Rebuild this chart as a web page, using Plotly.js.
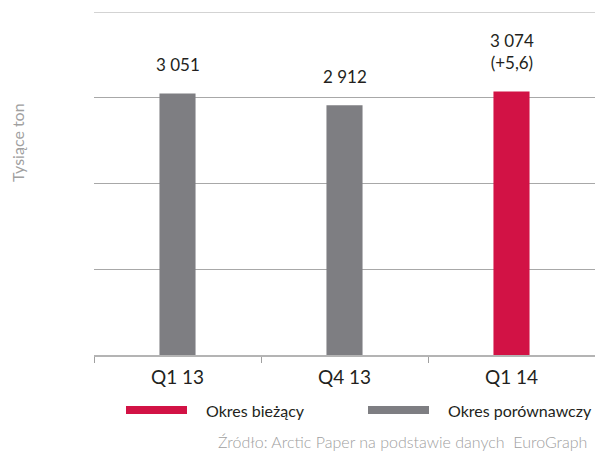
<!DOCTYPE html>
<html>
<head>
<meta charset="utf-8">
<script src="https://cdn.plot.ly/plotly-3.0.1.min.js"></script>
<style>html,body{margin:0;padding:0;background:#fff;}#chart{width:595px;height:455px;}</style>
</head>
<body>
<div id="chart"></div>
<script>
var categories = ["Q1 13", "Q4 13", "Q1 14"];
var values = [3051, 2912, 3074];
var valueLabels = ["3 051", "2 912", "3 074<br>(+5,6)"];
var isCurrent = [false, false, true];
var seriesNames = ["Okres bieżący", "Okres porównawczy"];
var yTitle = "Tysiące ton";
var sourceText = "Źródło: Arctic Paper na podstawie danych  EuroGraph";

var RED = "#d21245", GRAY = "#7e7e82";
var FONT = "Lato, 'Open Sans', sans-serif";
var DARK = "#231f20", LIGHT = "#a0a0a0";

var cmpX = [], cmpY = [], curX = [], curY = [];
categories.forEach(function(c, i){
  if (isCurrent[i]) { curX.push(c); curY.push(values[i]); }
  else { cmpX.push(c); cmpY.push(values[i]); }
});

var traces = [
  {type:"bar", x:cmpX, y:cmpY, name:seriesNames[1], marker:{color:GRAY}, width:0.216, hoverinfo:"x+y"},
  {type:"bar", x:curX, y:curY, name:seriesNames[0], marker:{color:RED}, width:0.216, hoverinfo:"x+y"}
];

// pixel helpers for paper coords (plot area: x 94..595, y 12..355)
function px(x){ return (x-94)/501; }
function py(y){ return (355-y)/343; }

var annotations = categories.map(function(c, i){
  return {x:c, y:values[i], xref:"x", yref:"y", text:valueLabels[i], showarrow:false,
          yanchor:"bottom", yshift:16, font:{family:FONT, size:17, color:DARK}};
});
annotations.push({xref:"paper", yref:"paper", x:px(17), y:py(143),
  xanchor:"center", yanchor:"middle", text:yTitle, textangle:-90, showarrow:false,
  font:{family:FONT, size:16, color:LIGHT}});
var legY = py(410);
annotations.push({xref:"paper", yref:"paper", x:px(204), y:legY, xanchor:"left", yanchor:"middle",
  text:seriesNames[0], showarrow:false, font:{family:FONT, size:16, color:DARK}});
annotations.push({xref:"paper", yref:"paper", x:px(446), y:legY, xanchor:"left", yanchor:"middle",
  text:seriesNames[1], showarrow:false, font:{family:FONT, size:16, color:DARK}});
annotations.push({xref:"paper", yref:"paper", x:px(216), y:py(441), xanchor:"left", yanchor:"middle",
  text:sourceText, showarrow:false, font:{family:FONT, size:16, color:LIGHT, weight:300}});

var shapes = [
  {type:"rect", xref:"paper", yref:"paper", x0:px(126), x1:px(187), y0:py(414), y1:py(406),
   fillcolor:RED, line:{width:0}},
  {type:"rect", xref:"paper", yref:"paper", x0:px(368), x1:px(429), y0:py(414), y1:py(406),
   fillcolor:GRAY, line:{width:0}},
  {type:"line", xref:"paper", yref:"y", x0:0, x1:1, y0:4000, y1:4000, line:{color:"#a8a8a8", width:1}, layer:"below"}
];

var layout = {
  width:595, height:455,
  margin:{l:94, r:0, t:12, b:100},
  paper_bgcolor:"#fff", plot_bgcolor:"#fff",
  showlegend:false,
  barmode:"overlay",
  font:{family:FONT},
  xaxis:{type:"category", categoryorder:"array", categoryarray:categories,
    showline:true, linecolor:"#b4b4b4", linewidth:1.5,
    ticks:"outside", tickson:"boundaries", ticklen:6, tickcolor:"#a0a0a0", tickwidth:1,
    ticklabelstandoff:5,
    tickfont:{family:FONT, size:19, color:DARK}, showgrid:false, fixedrange:true},
  yaxis:{range:[0,4000], dtick:1000, showticklabels:false, showgrid:true, gridcolor:"#a8a8a8",
    gridwidth:1, zeroline:false, showline:false, ticks:"", fixedrange:true},
  annotations:annotations,
  shapes:shapes
};

Plotly.newPlot("chart", traces, layout, {displayModeBar:false, staticPlot:true});
</script>
</body>
</html>
